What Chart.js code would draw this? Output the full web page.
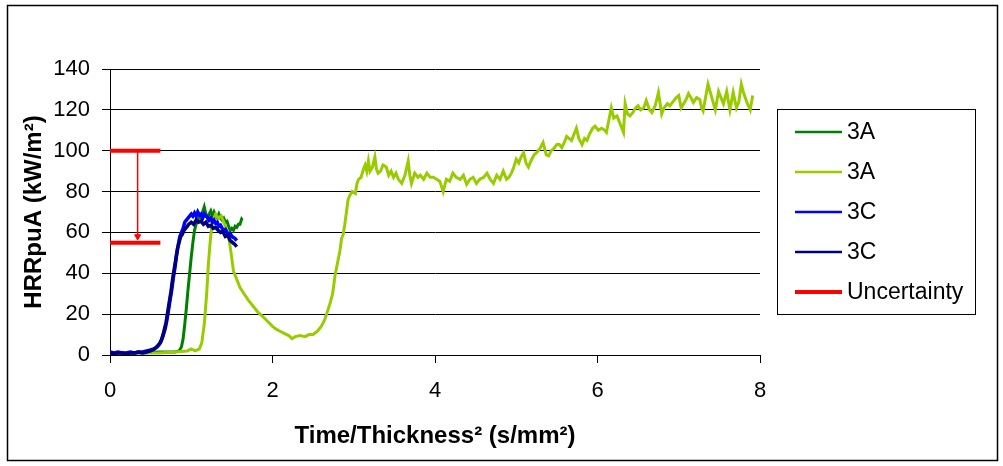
<!DOCTYPE html>
<html>
<head>
<meta charset="utf-8">
<script src="https://cdn.jsdelivr.net/npm/chart.js@4.4.0/dist/chart.umd.min.js"></script>
<style>
  html, body { margin: 0; padding: 0; background: #fff; }
  canvas { display: block; }
</style>
</head>
<body>
<canvas id="c" width="1003" height="466"></canvas>
<script>
// Axis ticks
const xTicks = [0, 2, 4, 6, 8];
const yTicks = [0, 20, 40, 60, 80, 100, 120, 140];

// Series labels
const seriesLabels = ['3A', '3A', '3C', '3C', 'Uncertainty'];

// 3A (dark green) – time/thickness² and HRRpuA
const a1X = [0, 0.2, 0.4, 0.6, 0.7, 0.8, 0.85, 0.88, 0.9, 0.92, 0.94, 0.96, 0.98, 1.0, 1.02, 1.04, 1.06, 1.08, 1.10, 1.12, 1.14, 1.16, 1.18, 1.20, 1.22, 1.24, 1.26, 1.28, 1.30, 1.32, 1.34, 1.36, 1.38, 1.40, 1.42, 1.44, 1.46, 1.48, 1.50, 1.52, 1.54, 1.56, 1.58, 1.60, 1.62, 1.63];
const a1Y = [1, 1, 1, 1.5, 1.5, 1.5, 2, 4, 8, 15, 23, 32, 40, 48, 55, 61, 64, 66, 68, 67, 70, 72.5, 69, 67, 69, 70.5, 68, 70, 68, 67, 69, 67, 66, 67, 65, 65.5, 63, 61, 62, 61, 63, 62.5, 64, 64, 66.5, 66];

// 3A (yellow-green)
const a2X = [0, 0.2, 0.4, 0.6, 0.8, 0.95, 1.0, 1.05, 1.1, 1.13, 1.16, 1.19, 1.21, 1.23, 1.25, 1.27, 1.30, 1.33, 1.37, 1.40, 1.43, 1.46, 1.49, 1.52, 1.56, 1.60, 1.65, 1.70, 1.76, 1.82, 1.89, 1.95, 2.0, 2.05, 2.1, 2.15, 2.2, 2.24, 2.28, 2.34, 2.40, 2.45, 2.50, 2.55, 2.60, 2.64, 2.67, 2.71, 2.74, 2.77, 2.80, 2.83, 2.85, 2.87, 2.89, 2.91, 2.93, 2.95, 2.98, 3.02, 3.04, 3.06, 3.09, 3.12, 3.14, 3.16, 3.18, 3.20, 3.23, 3.26, 3.28, 3.30, 3.33, 3.36, 3.40, 3.43, 3.46, 3.49, 3.52, 3.55, 3.59, 3.63, 3.67, 3.69, 3.71, 3.75, 3.79, 3.82, 3.86, 3.90, 3.94, 3.98, 4.02, 4.06, 4.10, 4.14, 4.18, 4.22, 4.26, 4.31, 4.35, 4.39, 4.43, 4.47, 4.51, 4.55, 4.60, 4.64, 4.68, 4.72, 4.76, 4.80, 4.84, 4.88, 4.91, 4.94, 4.97, 5.00, 5.03, 5.06, 5.09, 5.12, 5.15, 5.18, 5.22, 5.25, 5.29, 5.33, 5.37, 5.40, 5.43, 5.46, 5.50, 5.53, 5.56, 5.59, 5.62, 5.65, 5.68, 5.71, 5.74, 5.77, 5.81, 5.84, 5.87, 5.90, 5.94, 5.97, 6.01, 6.05, 6.09, 6.11, 6.14, 6.17, 6.20, 6.24, 6.28, 6.32, 6.34, 6.37, 6.40, 6.44, 6.47, 6.50, 6.53, 6.57, 6.60, 6.64, 6.67, 6.71, 6.75, 6.79, 6.82, 6.86, 6.89, 6.93, 6.97, 7.00, 7.03, 7.06, 7.09, 7.12, 7.15, 7.18, 7.22, 7.26, 7.28, 7.30, 7.33, 7.36, 7.40, 7.45, 7.49, 7.52, 7.55, 7.59, 7.63, 7.67, 7.71, 7.74, 7.77, 7.80, 7.84, 7.88, 7.91];
const a2Y = [1, 1, 1, 1, 1.5, 2, 3, 2, 3, 6, 15, 30, 44, 54, 62, 66, 69, 67, 68, 65, 62, 58, 50, 41, 37, 33, 30, 27, 24, 21, 18.5, 16, 14, 12.5, 11.5, 10.5, 9.5, 8, 9, 9.5, 9, 10, 10, 11.5, 14, 17, 20.5, 25.5, 30, 39, 45, 51, 57, 59, 64, 70, 76, 78, 80, 79, 84, 86, 87, 91, 93, 90, 95, 90, 92, 97, 91, 89, 90, 93, 92, 88, 90, 87, 89, 86, 84, 88, 95, 88, 84, 89, 87, 88, 86, 89, 87, 87, 86, 85, 80, 86, 85, 89, 87, 86, 88, 83.5, 86, 87, 84, 86, 87, 89, 86, 84, 88, 86, 90, 86, 87, 89, 92, 95.8, 94, 97, 99, 94, 92, 95, 98, 99, 101, 104, 98, 97.5, 100, 101, 103, 103, 101.5, 104, 107, 106, 105, 108, 111, 106, 103, 106, 105, 108, 111, 112, 110, 111, 110, 109, 115, 121, 116, 117, 113, 109, 123, 118, 117, 119, 121, 122, 120, 121, 124.5, 120, 118.7, 122, 128.5, 118, 121, 123, 122, 124, 126, 127, 121, 123, 125, 128, 126, 123.6, 126, 125, 121, 119.5, 126, 132.6, 127, 120, 129, 126, 123, 129, 120, 128.5, 121, 124, 132.6, 128, 123.6, 120, 127];

// 3C (blue)
const c1X = [0, 0.05, 0.1, 0.15, 0.2, 0.25, 0.3, 0.35, 0.4, 0.45, 0.5, 0.54, 0.58, 0.62, 0.65, 0.68, 0.70, 0.72, 0.74, 0.76, 0.78, 0.80, 0.82, 0.84, 0.86, 0.88, 0.90, 0.92, 0.94, 0.96, 0.98, 1.00, 1.02, 1.04, 1.06, 1.08, 1.10, 1.12, 1.14, 1.16, 1.18, 1.20, 1.22, 1.24, 1.26, 1.28, 1.30, 1.32, 1.34, 1.36, 1.38, 1.40, 1.42, 1.44, 1.46, 1.48, 1.50, 1.52, 1.54, 1.56];
const c1Y = [1.5, 1, 1.5, 1, 1, 1.5, 1, 1.5, 1.5, 2, 2.5, 3, 4, 6, 9, 13, 17, 22, 27, 32, 38, 43, 49, 54, 58, 60, 62, 65, 66, 67, 68, 69, 68, 69.5, 68, 70, 68.5, 69, 67, 69, 68, 67.5, 66, 67, 65, 66, 64.5, 65, 63, 63.5, 62, 61, 61.5, 60, 59, 59.5, 58, 57.5, 57, 56];

// 3C (navy)
const c2X = [0, 0.05, 0.1, 0.15, 0.2, 0.25, 0.3, 0.35, 0.4, 0.45, 0.5, 0.55, 0.6, 0.63, 0.66, 0.69, 0.71, 0.73, 0.75, 0.77, 0.79, 0.81, 0.83, 0.85, 0.87, 0.89, 0.91, 0.93, 0.95, 0.97, 1.00, 1.03, 1.06, 1.09, 1.12, 1.15, 1.18, 1.21, 1.24, 1.27, 1.30, 1.33, 1.36, 1.39, 1.42, 1.45, 1.48, 1.51, 1.54, 1.56];
const c2Y = [1, 0.5, 1, 1, 0.5, 1, 1, 1.5, 1, 1.5, 2, 3, 5, 7, 11, 16, 21, 26, 31, 37, 42, 47, 52, 55, 58, 59, 61, 62, 63, 64, 65, 64, 66, 65, 65.5, 64, 65, 63, 63.5, 62, 62.5, 61, 60, 60.5, 58, 58.5, 56, 55, 54, 53];

// Uncertainty band: upper and lower limits and their span
const uncX = [0, 0.62];
const uncY = [100, 55];
const uncArrowX = 0.34;

const pts = (xs, ys) => xs.map((x, i) => ({ x, y: ys[i] }));

const FONT = "'Liberation Sans', Arial, sans-serif";

const frame = {
  id: 'frame',
  beforeDraw(chart) {
    const ctx = chart.ctx;
    ctx.save();
    ctx.fillStyle = '#fff';
    ctx.fillRect(0, 0, chart.width, chart.height);
    ctx.strokeStyle = '#000';
    ctx.lineWidth = 1.5;
    ctx.strokeRect(7.5, 5.5, 990, 455);
    ctx.restore();
  }
};

const boxLegend = {
  id: 'boxLegend',
  afterDraw(chart) {
    const ctx = chart.ctx;
    const items = chart.data.datasets.filter(d => d.label);
    ctx.save();
    ctx.strokeStyle = '#000';
    ctx.lineWidth = 1;
    ctx.strokeRect(777.5, 109.5, 198, 205);
    ctx.font = '23px ' + FONT;
    ctx.textBaseline = 'middle';
    ctx.textAlign = 'left';
    items.forEach((d, i) => {
      const y = 132 + i * 40;
      ctx.strokeStyle = d.borderColor;
      ctx.lineWidth = d.label === 'Uncertainty' ? 4 : 2.5;
      ctx.lineCap = 'butt';
      ctx.beginPath();
      ctx.moveTo(795, y);
      ctx.lineTo(842, y);
      ctx.stroke();
      ctx.fillStyle = '#000';
      ctx.fillText(d.label, 847, y + 1);
    });
    ctx.restore();
  }
};

new Chart(document.getElementById('c'), {
  type: 'line',
  data: {
    datasets: [
      { label: seriesLabels[0], data: pts(a1X, a1Y), borderColor: '#008000', borderWidth: 3, pointRadius: 0, order: 5 },
      { label: seriesLabels[1], data: pts(a2X, a2Y), borderColor: '#99CC00', borderWidth: 3, pointRadius: 0, order: 4 },
      { label: seriesLabels[2], data: pts(c1X, c1Y), borderColor: '#0000FF', borderWidth: 3.5, pointRadius: 0, order: 3 },
      { label: seriesLabels[3], data: pts(c2X, c2Y), borderColor: '#000080', borderWidth: 3.5, pointRadius: 0, order: 2 },
      { label: seriesLabels[4],
        data: [{ x: uncX[0], y: uncY[0] }, { x: uncX[1], y: uncY[0] }, { x: uncArrowX, y: null },
               { x: uncX[0], y: uncY[1] }, { x: uncX[1], y: uncY[1] }],
        borderColor: '#FF0000', borderWidth: 4, pointRadius: 0, spanGaps: false, borderCapStyle: 'butt', order: 1 },
      { label: '',
        data: [{ x: uncArrowX, y: uncY[0] }, { x: uncArrowX, y: uncY[1] + 3 }],
        borderColor: '#FF0000', backgroundColor: '#FF0000', borderWidth: 1.5,
        pointRadius: [0, 3.5], pointStyle: 'triangle', pointRotation: 180, pointBorderWidth: 1, order: 0 }
    ]
  },
  options: {
    responsive: false,
    animation: false,
    devicePixelRatio: 1,
    layout: { padding: { left: 0, top: 69, right: 243, bottom: 0 } },
    plugins: { legend: { display: false }, tooltip: { enabled: false } },
    scales: {
      x: {
        type: 'linear', min: 0, max: 8,
        afterFit: s => { s.height = 111; },
        afterBuildTicks: s => { s.ticks = xTicks.map(v => ({ value: v })); },
        grid: { drawOnChartArea: false, drawTicks: true, tickLength: 8, color: '#000' },
        border: { display: true, color: '#000', width: 1 },
        ticks: { color: '#000', padding: 15, font: { family: FONT, size: 22 } },
        title: { display: true, text: 'Time/Thickness² (s/mm²)', color: '#000',
                 font: { family: FONT, size: 24, weight: 'bold' }, padding: { top: 0, bottom: 15 } }
      },
      y: {
        min: 0, max: 140,
        afterFit: s => { s.width = 110; },
        afterBuildTicks: s => { s.ticks = yTicks.map(v => ({ value: v })); },
        grid: { drawOnChartArea: true, drawTicks: true, tickLength: 8, color: '#000', lineWidth: 1 },
        border: { display: true, color: '#000', width: 1 },
        ticks: { color: '#000', padding: 12, font: { family: FONT, size: 22 } },
        title: { display: true, text: 'HRRpuA (kW/m²)', color: '#000',
                 font: { family: FONT, size: 24, weight: 'bold' }, padding: { top: 20, bottom: 0 } }
      }
    }
  },
  plugins: [frame, boxLegend]
});
</script>
</body>
</html>
